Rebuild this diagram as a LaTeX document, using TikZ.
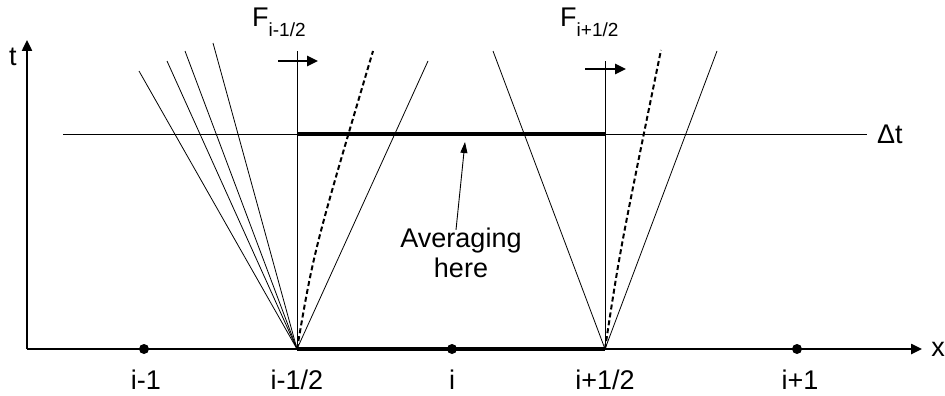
\documentclass[tikz,border=0pt]{standalone}
\usepackage{fontspec}
\setmainfont{Liberation Sans}
\usetikzlibrary{arrows.meta}
\begin{document}
\begin{tikzpicture}[x=1pt,y=-1pt,
  thinline/.style={line width=0.8pt},
  axisline/.style={line width=2.4pt},
  thickseg/.style={line width=4pt},
  dashline/.style={line width=2pt,dash pattern=on 5pt off 3pt},
  axisarrow/.style={-{Triangle[length=11pt,width=10pt]}},
  fluxarrow/.style={line width=2.6pt,-{Triangle[length=11pt,width=10pt]}},
  pointer/.style={line width=0.9pt,-{Triangle[length=11pt,width=7pt]}},
  lbl/.style={font=\fontsize{27}{30}\selectfont, inner sep=0pt},
  dot/.style={circle,fill=black,inner sep=0pt,minimum size=10pt}]
\useasboundingbox (0,0) rectangle (945,396);
% axes
\coordinate (O) at (27,349);
\coordinate (ttop) at (27,40);
\coordinate (xend) at (922,349);
\draw[axisline,axisarrow] (O) -- (ttop);
\draw[axisline,axisarrow] (O) -- (xend);
\node[lbl] (tl) at (13,57) {t};
\node[lbl] (xl) at (938,349) {x};
% interface points
\coordinate (A) at (297,349);
\coordinate (B) at (605,349);
\draw[thickseg] (A) -- (B);
% Delta t line
\coordinate (dl) at (63,134);
\coordinate (dr) at (867,134);
\coordinate (dA) at (297,134);
\coordinate (dB) at (605,134);
\draw[thinline] (dl) -- (dr);
\draw[thickseg] (dA) -- (dB);
\node[lbl,anchor=west] (dt) at (877,134) {Δt};
% vertical lines
\coordinate (Atop) at (297,51);
\coordinate (Btop) at (605,61);
\draw[thinline] (A) -- (Atop);
\draw[thinline] (B) -- (Btop);
% fan at i-1/2
\coordinate (a1) at (139,71);
\coordinate (a2) at (167,61);
\coordinate (a3) at (185,51);
\coordinate (a4) at (213,43);
\coordinate (a5) at (373,51);
\coordinate (a6) at (428,61);
\foreach \p in {a1,a2,a3,a4,a6} \draw[thinline] (A) -- (\p);
\draw[dashline] (A) .. controls (314,250) .. (a5);
% fan at i+1/2
\coordinate (b1) at (493,51);
\coordinate (b2) at (661,50);
\coordinate (b3) at (717,51);
\draw[thinline] (B) -- (b1);
\draw[thinline] (B) -- (b3);
\draw[dashline] (B) .. controls (620,250) .. (b2);
% dots and labels
\node[dot] (p1) at (144,349) {};
\node[dot] (p2) at (452,349) {};
\node[dot] (p3) at (797,349) {};
\node[lbl] (l1) at (146,380) {i-1};
\node[lbl] (l2) at (297,380) {i-1/2};
\node[lbl] (l3) at (452,380) {i};
\node[lbl] (l4) at (605,380) {i+1/2};
\node[lbl] (l5) at (800,380) {i+1};
% flux labels and arrows
\node[lbl,anchor=base west] (F1) at (252,27) {F\raisebox{-10pt}{\fontsize{19}{20}\selectfont i-1/2}};
\node[lbl,anchor=base west] (F2) at (560,27) {F\raisebox{-10pt}{\fontsize{19}{20}\selectfont i+1/2}};
\coordinate (f1s) at (278,61);
\coordinate (f1e) at (318,61);
\coordinate (f2s) at (585,69);
\coordinate (f2e) at (626,69);
\draw[fluxarrow] (f1s) -- (f1e);
\draw[fluxarrow] (f2s) -- (f2e);
% averaging
\node[lbl,align=center,font=\fontsize{27}{30}\selectfont] (avg) at (461,253) {Averaging\\here};
\coordinate (avgtip) at (465,142);
\draw[pointer] (avg.north -| 456,0) ++(0,2) -- (avgtip);
\end{tikzpicture}
\end{document}
